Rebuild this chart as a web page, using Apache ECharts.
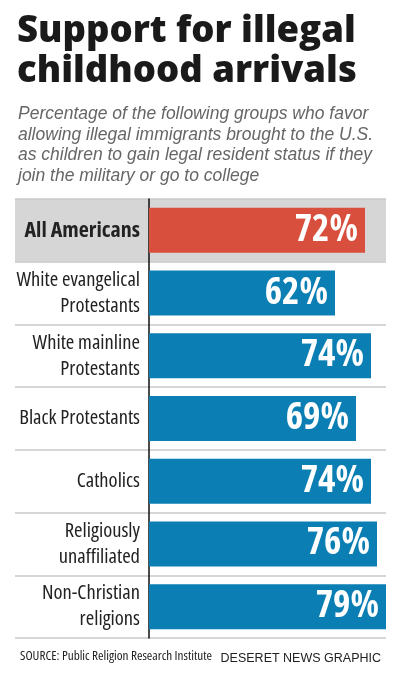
<!DOCTYPE html>
<html>
<head>
<meta charset="utf-8">
<script src="https://cdn.jsdelivr.net/npm/echarts@6/dist/echarts.min.js"></script>
<style>
html,body{margin:0;padding:0;background:#fff;}
#c{width:400px;height:674px;}
</style>
</head>
<body>
<div id="c"></div>
<script>
const titleText = 'Support for illegal\nchildhood arrivals';
const subtitleText = 'Percentage of the following groups who favor\nallowing illegal immigrants brought to the U.S.\nas children to gain legal resident status if they\njoin the military or go to college';
const sourceText = 'SOURCE: Public Religion Research Institute';
const creditText = 'DESERET NEWS GRAPHIC';
const categories = [
  'All Americans',
  'White evangelical\nProtestants',
  'White mainline\nProtestants',
  'Black Protestants',
  'Catholics',
  'Religiously\nunaffiliated',
  'Non-Christian\nreligions'
];
const values = [72, 62, 74, 69, 74, 76, 79];
const highlightIndex = 0;

const RED = '#d8503d', BLUE = '#0b7fb3';
const cond = '"Open Sans","Roboto Condensed",sans-serif';

const chart = echarts.init(document.getElementById('c'), null, {renderer:'canvas'});
chart.setOption({
  animation:false,
  backgroundColor:'#fff',
  title:[
    {text:titleText, left:12, top:7,
     textStyle:{fontFamily:'"Open Sans",sans-serif', fontWeight:800, fontSize:36.5, lineHeight:40, color:'#1a1a1a'}},
    {text:subtitleText, left:13, top:99,
     textStyle:{fontFamily:'"Liberation Sans",Arial,sans-serif', fontStyle:'italic', fontWeight:'normal', fontSize:17.5, lineHeight:20.5, color:'#666'}},
    {text:sourceText, left:15, top:645,
     textStyle:{fontFamily:cond, fontStyle:'condensed', fontWeight:'normal', fontSize:13.2, color:'#222'}},
    {text:creditText, right:14, top:647,
     textStyle:{fontFamily:'"Liberation Sans",Arial,sans-serif', fontWeight:'normal', fontSize:12.5, color:'#222'}}
  ],
  grid:[
    {left:15, right:14, top:199, height:439, containLabel:false, outerBoundsMode:'none'},
    {left:149, right:14, top:199, height:439, containLabel:false, outerBoundsMode:'none'}
  ],
  xAxis:[
    {gridIndex:0, type:'value', show:false, min:0, max:1},
    {gridIndex:1, type:'value', show:false, min:0, max:79}
  ],
  yAxis:[
    {gridIndex:0, type:'category', data:categories, inverse:true,
     axisLine:{show:false}, axisTick:{show:false}, axisLabel:{show:false},
     splitLine:{show:true, lineStyle:{color:'#c9c9c9', width:1.5}},
     splitArea:{show:true, areaStyle:{color:categories.map((c,i)=> i===highlightIndex ? '#d6d6d6' : 'rgba(0,0,0,0)')}}},
    {gridIndex:1, type:'category', data:categories, inverse:true,
     axisLine:{show:true, lineStyle:{color:'#111', width:1.5}}, axisTick:{show:false},
     axisLabel:{margin:9, align:'right', fontFamily:cond, fontStyle:'condensed', fontSize:20.5, lineHeight:26, color:'#222',
       formatter:(v,i)=> i===highlightIndex ? '{b|'+v+'}' : v,
       rich:{b:{fontFamily:cond, fontStyle:'condensed', fontWeight:'bold', fontSize:22, color:'#222'}}},
     splitLine:{show:false}}
  ],
  series:[{
    type:'bar', xAxisIndex:1, yAxisIndex:1, barWidth:45,
    data: values.map((v,i)=>({value:v, itemStyle:{color: i===highlightIndex ? RED : BLUE}})),
    label:{show:true, position:'insideRight', distance:7, formatter:'{c}%',
      fontFamily:cond, fontStyle:'condensed', fontWeight:'bold', fontSize:37, color:'#fff'}
  }]
});
</script>
</body>
</html>
